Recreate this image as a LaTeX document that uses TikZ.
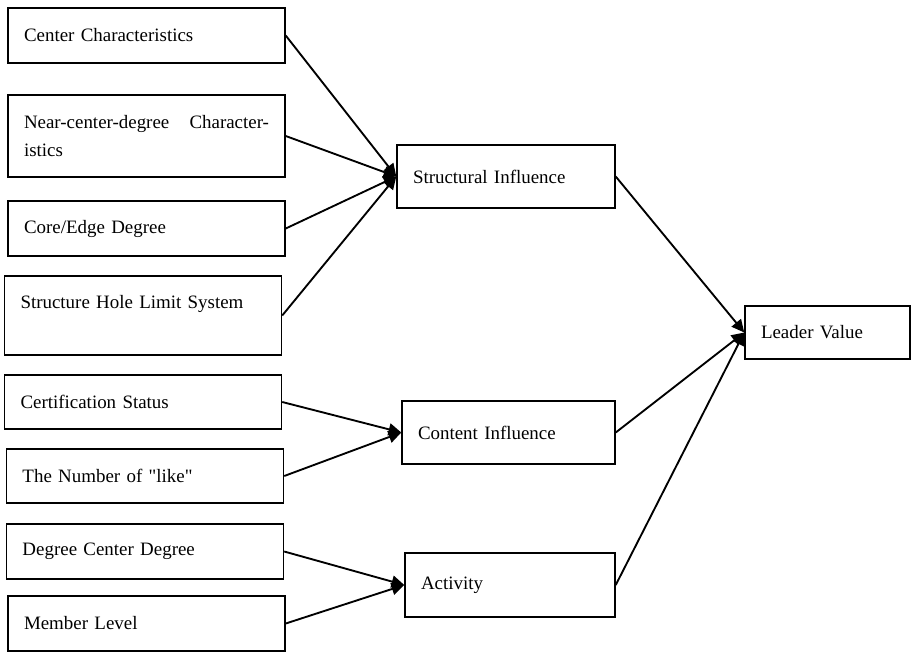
\documentclass[tikz,border=0pt]{standalone}
\usepackage{fontspec}
\setmainfont{Liberation Serif}[Ligatures=TeXOff]
\usetikzlibrary{arrows.meta}

\begin{document}
\begin{tikzpicture}[
			x=0.75pt, y=-0.75pt,
			font=\fontsize{14.2}{21}\selectfont,
			box/.style = {draw, line width=1.1pt, rectangle, inner xsep=12pt, inner ysep=0pt, align=left},
			factor/.style = {box, text width=183.75pt, minimum height=41.25pt},
			middle/.style = {box, minimum height=47.25pt},
			link/.style = {-{Triangle[length=9.5pt,width=9pt]}, line width=1.4pt}
		]
		\useasboundingbox (0,0) rectangle (911,651);
		% Factors.
		\node[factor] (center) at (146.5,35.5) {Center Characteristics};
		\node[factor, minimum height=61.5pt, align=justify] (nearcenter) at (146.5,136) {Near-center-degree\hfill Character-\\istics};
		\node[factor] (coreedge) at (146.5,228.5) {Core/Edge Degree};
		\node[factor, minimum height=59.25pt, text depth=20pt] (hole) at (143,315.5) {Structure Hole Limit System};
		\node[factor, minimum height=40.5pt] (cert) at (143,402) {Certification Status};
		\node[factor, minimum height=40.5pt] (likes) at (145,476) {The Number of "like"};
		\node[factor] (degree) at (145,551.5) {Degree Center Degree};
		\node[factor] (member) at (146.5,623.5) {Member Level};
		% Influences.
		\node[middle, text width=139.5pt] (structural) at (506,176.5) {Structural Influence};
		\node[middle, text width=135.75pt] (content) at (508.5,432.5) {Content Influence};
		\node[middle, text width=133.5pt, minimum height=48pt] (activity) at (510,585) {Activity};
		% Result.
		\node[box, text width=99.75pt, minimum height=39.75pt] (leader) at (827.5,332.5) {Leader Value};
		
		\draw[link] (center.east) to (structural.west);
		\draw[link] (nearcenter.east) to (structural.west);
		\draw[link] (coreedge.east) to (structural.west);
		\draw[link] (hole.east) to (structural.west);
		\draw[link] (cert.east) to (content.west);
		\draw[link] (likes.east) to (content.west);
		\draw[link] (degree.east) to (activity.west);
		\draw[link] (member.east) to (activity.west);
		\draw[link] (structural.east) to (leader.west);
		\draw[link] (content.east) to (leader.west);
		\draw[link] (activity.east) to (leader.west);
	\end{tikzpicture}
\end{document}
